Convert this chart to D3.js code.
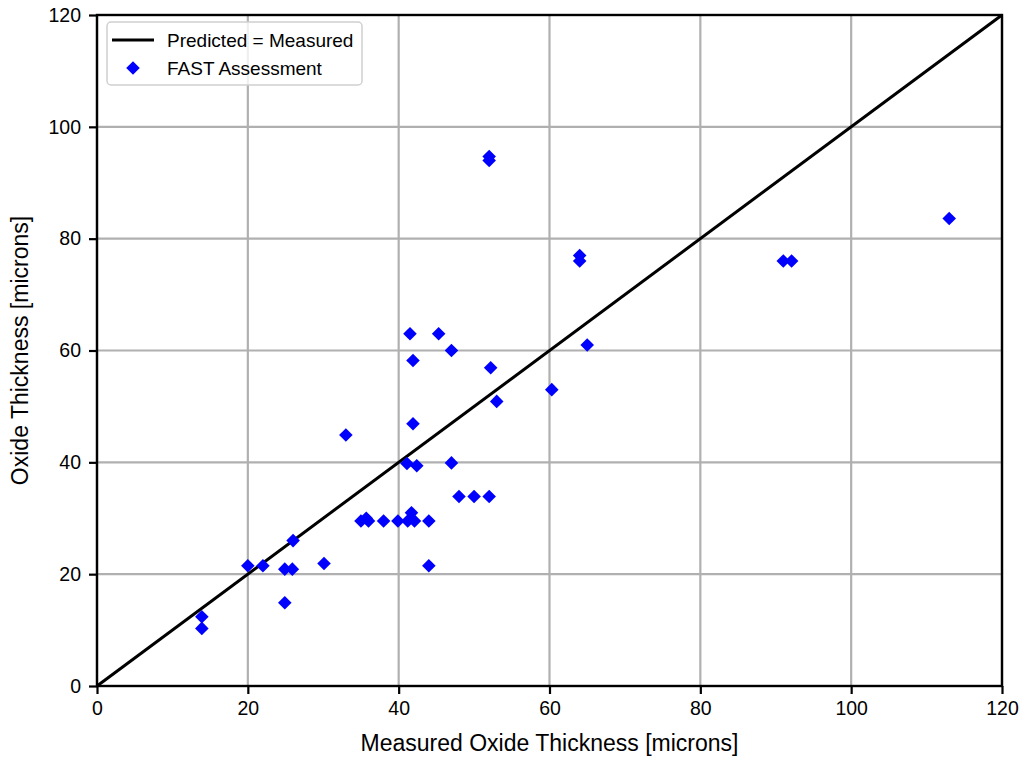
<!DOCTYPE html>
<html>
<head>
<meta charset="utf-8">
<script src="https://cdn.jsdelivr.net/npm/d3@7"></script>
<style>
  html, body { margin: 0; padding: 0; background: #fff; }
  svg { display: block; font-family: "Liberation Sans", Arial, Helvetica, sans-serif; }
</style>
</head>
<body>
<svg id="chart" width="1026" height="760"></svg>
<script>
// Measured vs. predicted oxide thickness (microns)
const measured = [
  13.9, 13.9, 20.0, 22.0, 24.9, 25.9, 24.9, 26.0, 30.1, 33.0,
  35.0, 35.7, 36.0, 38.0, 39.9, 41.2, 41.7, 42.1, 44.0, 44.0,
  41.1, 42.4, 41.9, 47.0, 48.0, 50.0, 52.0, 53.0, 52.2, 41.5,
  45.3, 47.0, 41.9, 60.3, 65.0, 64.0, 64.0, 91.0, 92.1, 113.0,
  52.0, 52.0
];
const predicted = [
  12.4, 10.3, 21.5, 21.5, 20.9, 20.9, 14.9, 26.0, 21.9, 44.9,
  29.5, 30.0, 29.5, 29.5, 29.5, 29.5, 31.0, 29.5, 29.5, 21.5,
  39.8, 39.4, 46.9, 39.9, 33.9, 33.9, 33.9, 50.9, 56.9, 63.0,
  63.0, 60.0, 58.2, 53.0, 61.0, 77.0, 76.0, 76.0, 76.0, 83.6,
  94.7, 94.0
];
const axisDomain = [0, 120];
const tickValues = [0, 20, 40, 60, 80, 100, 120];
const parityLine = [0, 120];
const legendLabels = ["Predicted = Measured", "FAST Assessment"];
const xTitle = "Measured Oxide Thickness [microns]";
const yTitle = "Oxide Thickness [microns]";

const W = 1026, H = 760;
const margin = { top: 15, right: 24, bottom: 74, left: 97 };
const svg = d3.select("#chart");

const x = d3.scaleLinear().domain(axisDomain).range([margin.left, W - margin.right]);
const y = d3.scaleLinear().domain(axisDomain).range([H - margin.bottom, margin.top]);

// grid
const grid = svg.append("g").attr("stroke", "#b0b0b0").attr("stroke-width", 2.2);
grid.selectAll("line.v").data(tickValues).join("line")
  .attr("x1", d => x(d)).attr("x2", d => x(d))
  .attr("y1", y(axisDomain[0])).attr("y2", y(axisDomain[1]));
grid.selectAll("line.h").data(tickValues).join("line")
  .attr("y1", d => y(d)).attr("y2", d => y(d))
  .attr("x1", x(axisDomain[0])).attr("x2", x(axisDomain[1]));

// parity line
svg.append("line")
  .attr("x1", x(parityLine[0])).attr("y1", y(parityLine[0]))
  .attr("x2", x(parityLine[1])).attr("y2", y(parityLine[1]))
  .attr("stroke", "#000").attr("stroke-width", 3);

// data points (diamonds)
const diamond = d3.symbol().type(d3.symbolSquare).size(92);
const pts = measured.map((m, i) => [m, predicted[i]]);
svg.append("g").selectAll("path").data(pts).join("path")
  .attr("d", diamond)
  .attr("transform", d => `translate(${x(d[0])},${y(d[1])}) rotate(45)`)
  .attr("fill", "#0000ff");

// axes
const fontTick = 19.5;
const xAxis = svg.append("g")
  .attr("transform", `translate(0,${y(0)})`)
  .call(d3.axisBottom(x).tickValues(tickValues).tickSize(8).tickPadding(7));
const yAxis = svg.append("g")
  .attr("transform", `translate(${x(0)},0)`)
  .call(d3.axisLeft(y).tickValues(tickValues).tickSize(8).tickPadding(8));
[xAxis, yAxis].forEach(a => {
  a.selectAll(".domain").remove();
  a.selectAll(".tick line").attr("stroke", "#000").attr("stroke-width", 2.2);
  a.selectAll(".tick text").attr("fill", "#000")
    .style("font-size", fontTick + "px")
    .style("font-family", "'Liberation Sans', Arial, sans-serif");
});

// frame
svg.append("rect")
  .attr("x", x(0)).attr("y", y(120))
  .attr("width", x(120) - x(0)).attr("height", y(0) - y(120))
  .attr("fill", "none").attr("stroke", "#000").attr("stroke-width", 2.4);

// axis titles
svg.append("text")
  .attr("x", (x(0) + x(120)) / 2).attr("y", 751)
  .attr("text-anchor", "middle").style("font-size", "23px")
  .text(xTitle);
svg.append("text")
  .attr("transform", `translate(28,${(y(0) + y(120)) / 2}) rotate(-90)`)
  .attr("text-anchor", "middle").style("font-size", "23px")
  .text(yTitle);

// legend
const lg = svg.append("g");
lg.append("rect")
  .attr("x", 107).attr("y", 22).attr("width", 255).attr("height", 63)
  .attr("rx", 4).attr("fill", "#fff").attr("fill-opacity", 0.8)
  .attr("stroke", "#d0d0d0").attr("stroke-width", 1.5);
lg.append("line")
  .attr("x1", 112).attr("x2", 154).attr("y1", 40).attr("y2", 40)
  .attr("stroke", "#000").attr("stroke-width", 3);
lg.append("path")
  .attr("d", diamond)
  .attr("transform", "translate(133,68) rotate(45)")
  .attr("fill", "#0000ff");
lg.selectAll("text").data(legendLabels).join("text")
  .attr("x", 167).attr("y", (d, i) => 47 + i * 28)
  .style("font-size", "19px")
  .text(d => d);
</script>
</body>
</html>
